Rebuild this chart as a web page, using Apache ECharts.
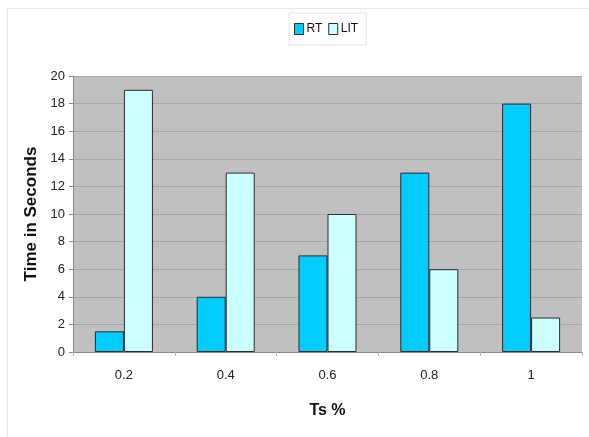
<!DOCTYPE html>
<html>
<head>
<meta charset="utf-8">
<script src="https://cdn.jsdelivr.net/npm/echarts@6/dist/echarts.min.js"></script>
<style>
  html, body { margin: 0; padding: 0; background: #ffffff; }
  #chart { width: 589px; height: 437px; }
</style>
</head>
<body>
<div id="chart"></div>
<script>
// Threshold share vs. run time for the two methods
const categories = ['0.2', '0.4', '0.6', '0.8', '1'];
const rtValues = [1.5, 4, 7, 13, 18];
const litValues = [19, 13, 10, 6, 2.5];

const chart = echarts.init(document.getElementById('chart'), null, { renderer: 'canvas' });

const barBorder = { borderColor: '#2b2b2b', borderWidth: 1 };
const font = 'Liberation Sans, Arial, sans-serif';

chart.setOption({
  animation: false,
  backgroundColor: '#ffffff',
  graphic: [{
    type: 'rect',
    shape: { x: 7.5, y: 8.5, width: 600, height: 450 },
    style: { fill: 'none', stroke: '#e6e6e6', lineWidth: 1 },
    silent: true,
    z: -10
  }],
  legend: {
    top: 13,
    left: 289,
    itemWidth: 9,
    itemHeight: 11,
    itemGap: 6,
    padding: [10, 8, 10, 5],
    borderColor: '#e4e4e4',
    borderWidth: 1,
    textStyle: { fontFamily: font, fontSize: 12, color: '#111', padding: [0, 0, 0, -2] },
    data: [
      { name: 'RT', icon: 'rect', itemStyle: barBorder },
      { name: 'LIT', icon: 'rect', itemStyle: barBorder }
    ]
  },
  grid: {
    left: 73, right: 7, top: 76, bottom: 85,
    show: true,
    backgroundColor: '#c0c0c0',
    borderWidth: 0
  },
  xAxis: {
    type: 'category',
    data: categories,
    name: 'Ts %',
    nameLocation: 'middle',
    nameGap: 51,
    nameTextStyle: { fontFamily: font, fontSize: 16, fontWeight: 'bold', color: '#111' },
    axisLine: { lineStyle: { color: '#8a8a8a', width: 1 } },
    axisTick: { show: true, length: 4, lineStyle: { color: '#b5b5b5' } },
    axisLabel: { fontFamily: font, fontSize: 13, color: '#222', margin: 17 }
  },
  yAxis: {
    type: 'value',
    min: 0,
    max: 20,
    interval: 2,
    name: 'Time in Seconds',
    nameLocation: 'middle',
    nameGap: 33,
    nameTextStyle: { fontFamily: font, fontSize: 17, fontWeight: 'bold', color: '#111' },
    axisLine: { show: true, lineStyle: { color: '#8a8a8a', width: 1 } },
    axisTick: { show: true, length: 4, lineStyle: { color: '#8a8a8a' } },
    axisLabel: { fontFamily: font, fontSize: 13, color: '#222', margin: 8 },
    splitLine: { lineStyle: { color: '#a6a6a6', width: 1 } }
  },
  series: [
    {
      name: 'RT',
      type: 'bar',
      data: rtValues,
      barGap: '0%',
      barCategoryGap: '43%',
      itemStyle: Object.assign({ color: '#00ccff' }, barBorder)
    },
    {
      name: 'LIT',
      type: 'bar',
      data: litValues,
      barGap: '0%',
      barCategoryGap: '43%',
      itemStyle: Object.assign({ color: '#ccffff' }, barBorder)
    }
  ]
});
</script>
</body>
</html>
